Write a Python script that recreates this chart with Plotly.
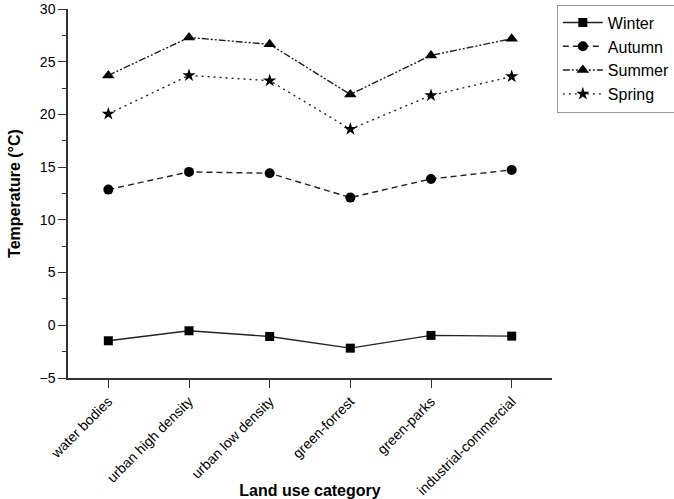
import plotly.graph_objects as go

categories = ["water bodies", "urban high density", "urban low density",
              "green-forrest", "green-parks", "industrial-commercial"]
winter = [-1.47, -0.52, -1.06, -2.17, -0.96, -1.03]
autumn = [12.87, 14.55, 14.42, 12.11, 13.88, 14.74]
summer = [23.7, 27.3, 26.65, 21.9, 25.6, 27.18]
spring = [20.05, 23.7, 23.2, 18.6, 21.8, 23.6]

series = [
    ("Winter", winter, "solid", "square", 9),
    ("Autumn", autumn, "6px,4px", "circle", 10),
    ("Summer", summer, "7px,2px,2px,2px,2px,2px", "triangle-up", 11),
    ("Spring", spring, "2px,4px", "star", 10),
]

x_idx = list(range(len(categories)))

fig = go.Figure()
for name, vals, dash, sym, size in series:
    fig.add_trace(go.Scatter(
        x=x_idx, y=vals, name=name, mode="lines+markers",
        line=dict(color="#222222", width=1.4, dash=dash),
        marker=dict(symbol=sym, size=size, color="black", line=dict(width=0)),
    ))

fig.update_layout(
    width=674, height=499,
    margin=dict(l=68, r=122, t=9, b=121, autoexpand=False),
    paper_bgcolor="white", plot_bgcolor="white",
    font=dict(family="Liberation Sans, Arial, sans-serif", color="black", size=13),
    legend=dict(
        x=1.01, y=1.012, xanchor="left", yanchor="top",
        bordercolor="#999999", borderwidth=1,
        font=dict(size=16), tracegroupgap=0, itemwidth=40,
    ),
    showlegend=True,
)

fig.update_xaxes(
    range=[-0.5, 5.5], automargin=False,
    tickmode="array", tickvals=x_idx, ticktext=categories,
    tickangle=-45, tickfont=dict(size=14),
    showline=True, linecolor="#333333", linewidth=1.5,
    ticks="outside", ticklen=8, tickcolor="#333333",
    showgrid=False, zeroline=False,
    title=dict(text="<b>Land use category</b>", font=dict(size=16)),
)
fig.update_yaxes(
    range=[-5, 30], dtick=5, tick0=0, automargin=False,
    tickfont=dict(size=14),
    showline=True, linecolor="#333333", linewidth=1.5,
    ticks="outside", ticklen=8, tickcolor="#333333",
    minor=dict(dtick=2.5, ticks="outside", ticklen=4, tickcolor="#333333"),
    showgrid=False, zeroline=False,
    title=dict(text="<b>Temperature (°C)</b>", font=dict(size=16)),
)

fig.write_html(
    "out.html",
    config={"displayModeBar": False},
    post_script="document.body.style.margin='0';document.body.style.overflow='hidden';",
)
